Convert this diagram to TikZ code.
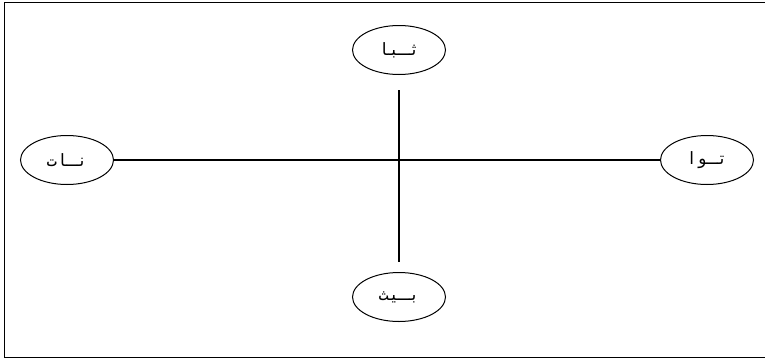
\documentclass[tikz,border=0pt]{standalone}
\usepackage{fontspec}
\usetikzlibrary{shapes.geometric}
\TeXXeTstate=1
\newfontfamily\arabicfont[Script=Arabic]{DejaVu Sans Mono}
\tikzset{
  lbl/.style={draw, line width=1pt, ellipse, minimum width=93pt, minimum height=49pt, inner sep=0pt, font=\arabicfont\fontsize{17}{20}\selectfont},
  conn/.style={line width=1.3pt},
  frame/.style={line width=1.5pt}
}
\begin{document}
\begin{tikzpicture}[x=1pt,y=-1pt]
\useasboundingbox (0,0) rectangle (765,362);
\draw[frame] (4.5,2.5) rectangle (790,357.5);
\node[lbl] (n) at (399,50) {\beginR ثـبا\endR};
\node[lbl] (w) at (67,160) {\beginR نـات\endR};
\node[lbl] (e) at (707,160) {\beginR تـوا\endR};
\node[lbl] (s) at (399,297) {\beginR بـيث\endR};
\draw[conn] (w) -- (e);
\draw[conn, shorten <=15pt, shorten >=10pt] (n) -- (s);
\end{tikzpicture}
\end{document}
